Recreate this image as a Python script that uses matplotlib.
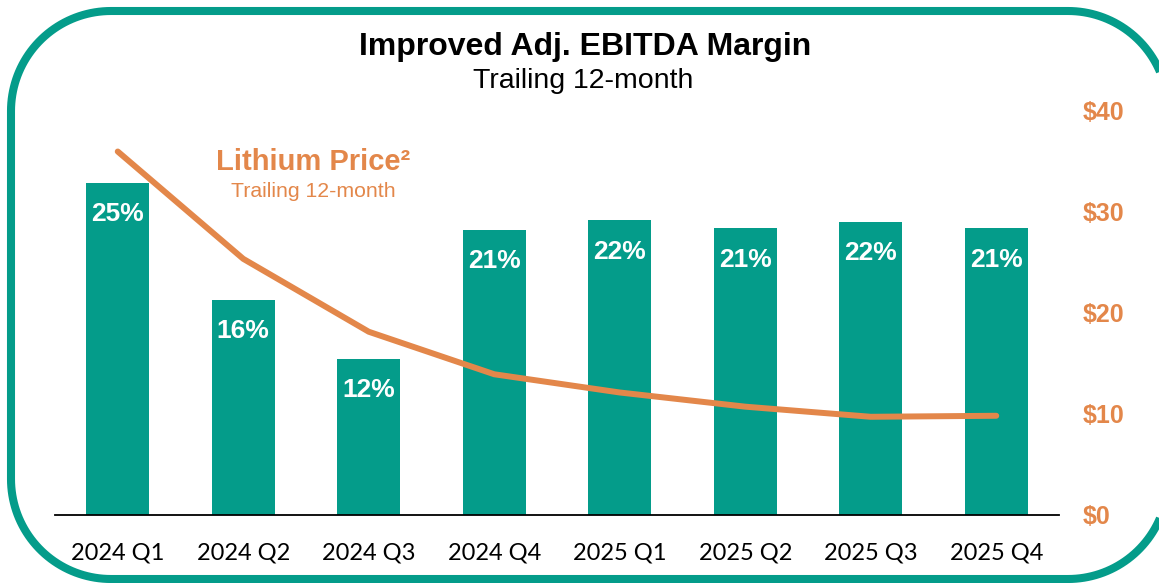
import numpy as np
import matplotlib
matplotlib.use('Agg')
import matplotlib.pyplot as plt
from matplotlib.patches import Polygon
from matplotlib.transforms import IdentityTransform

quarters = ['2024 Q1', '2024 Q2', '2024 Q3', '2024 Q4',
            '2025 Q1', '2025 Q2', '2025 Q3', '2025 Q4']
ebitda_margin = [24.7, 16.0, 11.6, 21.2, 21.9, 21.3, 21.8, 21.3]
lithium_price = [35.9, 25.3, 18.1, 13.9, 12.1, 10.7, 9.7, 9.8]
price_ticks = [0, 10, 20, 30, 40]

TEAL = '#049C8A'
ORANGE = '#E3874A'

def rounded_rect(x0, y0, x1, y1, r, n=40):
	# outline of a rectangle with circular corners, in pixels
	pts = []
	corners = [(x1 - r, y1 - r, 0), (x0 + r, y1 - r, 90),
			   (x0 + r, y0 + r, 180), (x1 - r, y0 + r, 270)]
	for cx, cy, a0 in corners:
		t = np.radians(np.linspace(a0, a0 + 90, n))
		pts += list(zip(cx + r * np.cos(t), cy + r * np.sin(t)))
	return np.array(pts)

def main():
	plt.rcParams['font.family'] = ['Liberation Sans', 'DejaVu Sans']
	fig = plt.figure(figsize=(11.59, 5.83), dpi=100)

	# rounded frame round the whole slide, right side runs off the picture
	frame = Polygon(rounded_rect(11, 4, 1168, 572, 100), closed=True, fill=False,
					edgecolor=TEAL, linewidth=5.8, transform=IdentityTransform(),
					clip_on=False)
	fig.patches.append(frame)

	ax = fig.add_axes([55 / 1159, 68 / 583, 1004 / 1159, 405 / 583])
	x = np.arange(len(quarters))
	ax.bar(x, ebitda_margin, width=0.5, color=TEAL, zorder=2)
	ax.set_xlim(-0.5, len(quarters) - 0.5)
	ax.set_ylim(0, 30.1)
	for i, v in enumerate(ebitda_margin):
		ax.annotate(f'{v:.0f}%', xy=(i, v), xytext=(0, -22.5), textcoords='offset points',
					ha='center', va='center', color='white', fontsize=19, fontweight='bold')

	ax.set_xticks(x)
	ax.set_xticklabels(quarters, fontsize=17, family=['Lato', 'DejaVu Sans'])
	ax.tick_params(axis='x', length=0, pad=19.5)
	ax.set_yticks([])
	for s in ['top', 'right', 'left']:
		ax.spines[s].set_visible(False)
	ax.spines['bottom'].set_linewidth(1.3)
	ax.spines['bottom'].set_zorder(5)

	ax2 = ax.twinx()
	ax2.plot(x, lithium_price, color=ORANGE, linewidth=4.3, solid_capstyle='round',
			 solid_joinstyle='round', zorder=3)
	ax2.set_ylim(0, 40)
	ax2.set_yticks(price_ticks)
	ax2.set_yticklabels([f'${t}' for t in price_ticks], color=ORANGE,
						fontsize=18, fontweight='bold')
	ax2.tick_params(axis='y', length=0, pad=17)
	for s in ax2.spines.values():
		s.set_visible(False)

	fig.text(0.5047, 0.919, 'Improved Adj. EBITDA Margin', ha='center', va='center',
			 fontsize=23, fontweight='bold', color='black')
	fig.text(0.503, 0.861, 'Trailing 12-month', ha='center', va='center', fontsize=20.5)
	fig.text(0.270, 0.722, 'Lithium Price²', ha='center', va='center',
			 fontsize=21, fontweight='bold', color=ORANGE)
	fig.text(0.270, 0.672, 'Trailing 12-month', ha='center', va='center',
			 fontsize=15.3, color=ORANGE)

	fig.savefig('out.png', dpi=100)

if __name__ == '__main__':

	main()
